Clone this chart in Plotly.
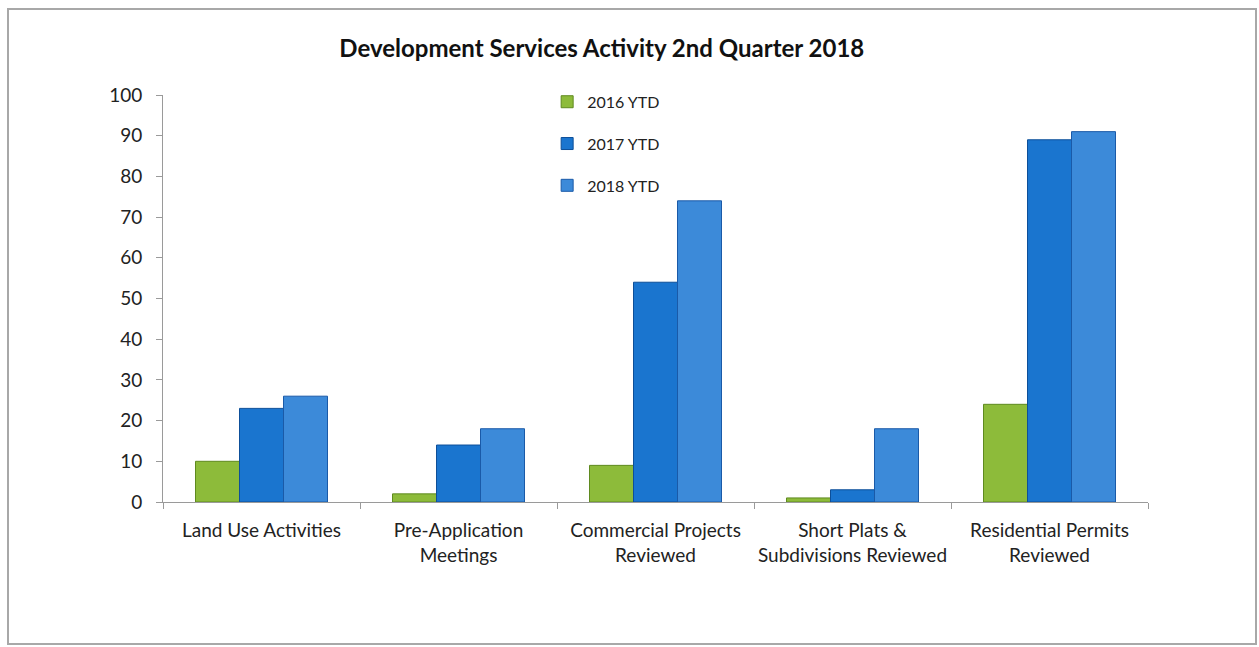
import plotly.graph_objects as go

categories = [
    "Land Use Activities",
    "Pre-Application<br>Meetings",
    "Commercial Projects<br>Reviewed",
    "Short Plats &<br>Subdivisions Reviewed",
    "Residential Permits<br>Reviewed",
]
ytd_2016 = [10, 2, 9, 1, 24]
ytd_2017 = [23, 14, 54, 3, 89]
ytd_2018 = [26, 18, 74, 18, 91]

series = [
    ("2016 YTD", ytd_2016, "#8dbb3a", "#5f8a1f"),
    ("2017 YTD", ytd_2017, "#1a75cf", "#0d4f99"),
    ("2018 YTD", ytd_2018, "#3c8ad9", "#1a5aa8"),
]

FONT = "Lato, Calibri, Carlito, sans-serif"

fig = go.Figure()
for i, (name, vals, fill, edge) in enumerate(series):
    fig.add_trace(go.Bar(
        x=categories,
        y=vals,
        name=name,
        legendgroup=f"g{i}",
        marker=dict(color=fill, line=dict(color=edge, width=1)),
    ))

fig.update_layout(
    width=1259,
    height=647,
    paper_bgcolor="white",
    plot_bgcolor="white",
    margin=dict(l=163, r=111, t=95, b=145, autoexpand=False),
    barmode="group",
    bargap=0.33,
    bargroupgap=0,
    font=dict(family=FONT, size=18, color="#222222"),
    title=dict(
        text="<b>Development Services Activity 2nd Quarter 2018</b>",
        x=0.478,
        xanchor="center",
        y=0.925,
        yanchor="middle",
        font=dict(family=FONT, size=24, color="#111111"),
    ),
    showlegend=True,
    legend=dict(
        x=0.39,
        y=1.025,
        xanchor="left",
        yanchor="top",
        tracegroupgap=18,
        font=dict(family=FONT, size=16, color="#222222"),
        bgcolor="rgba(0,0,0,0)",
        itemwidth=30,
    ),
    xaxis=dict(
        type="category",
        automargin=False,
        tickangle=0,
        showline=True,
        linecolor="#9a9a9a",
        linewidth=1,
        ticks="outside",
        tickson="boundaries",
        ticklen=6,
        tickcolor="#9a9a9a",
        showgrid=False,
        ticklabelstandoff=11,
        tickfont=dict(family=FONT, size=19, color="#222222"),
    ),
    yaxis=dict(
        range=[0, 100],
        dtick=10,
        automargin=False,
        showline=True,
        linecolor="#9a9a9a",
        linewidth=1,
        ticks="outside",
        ticklen=6,
        tickcolor="#9a9a9a",
        showgrid=False,
        zeroline=False,
        ticklabelstandoff=10,
        tickfont=dict(family=FONT, size=19, color="#222222"),
    ),
    shapes=[
        dict(
            type="rect",
            xref="paper",
            yref="paper",
            x0=(8 - 163) / 985,
            x1=(1256 - 163) / 985,
            y0=(502 - 644) / 407,
            y1=(502 - 9) / 407,
            line=dict(color="#a8a8a8", width=2),
            fillcolor="rgba(0,0,0,0)",
            layer="below",
        )
    ],
)

fig.write_html("out.html")
